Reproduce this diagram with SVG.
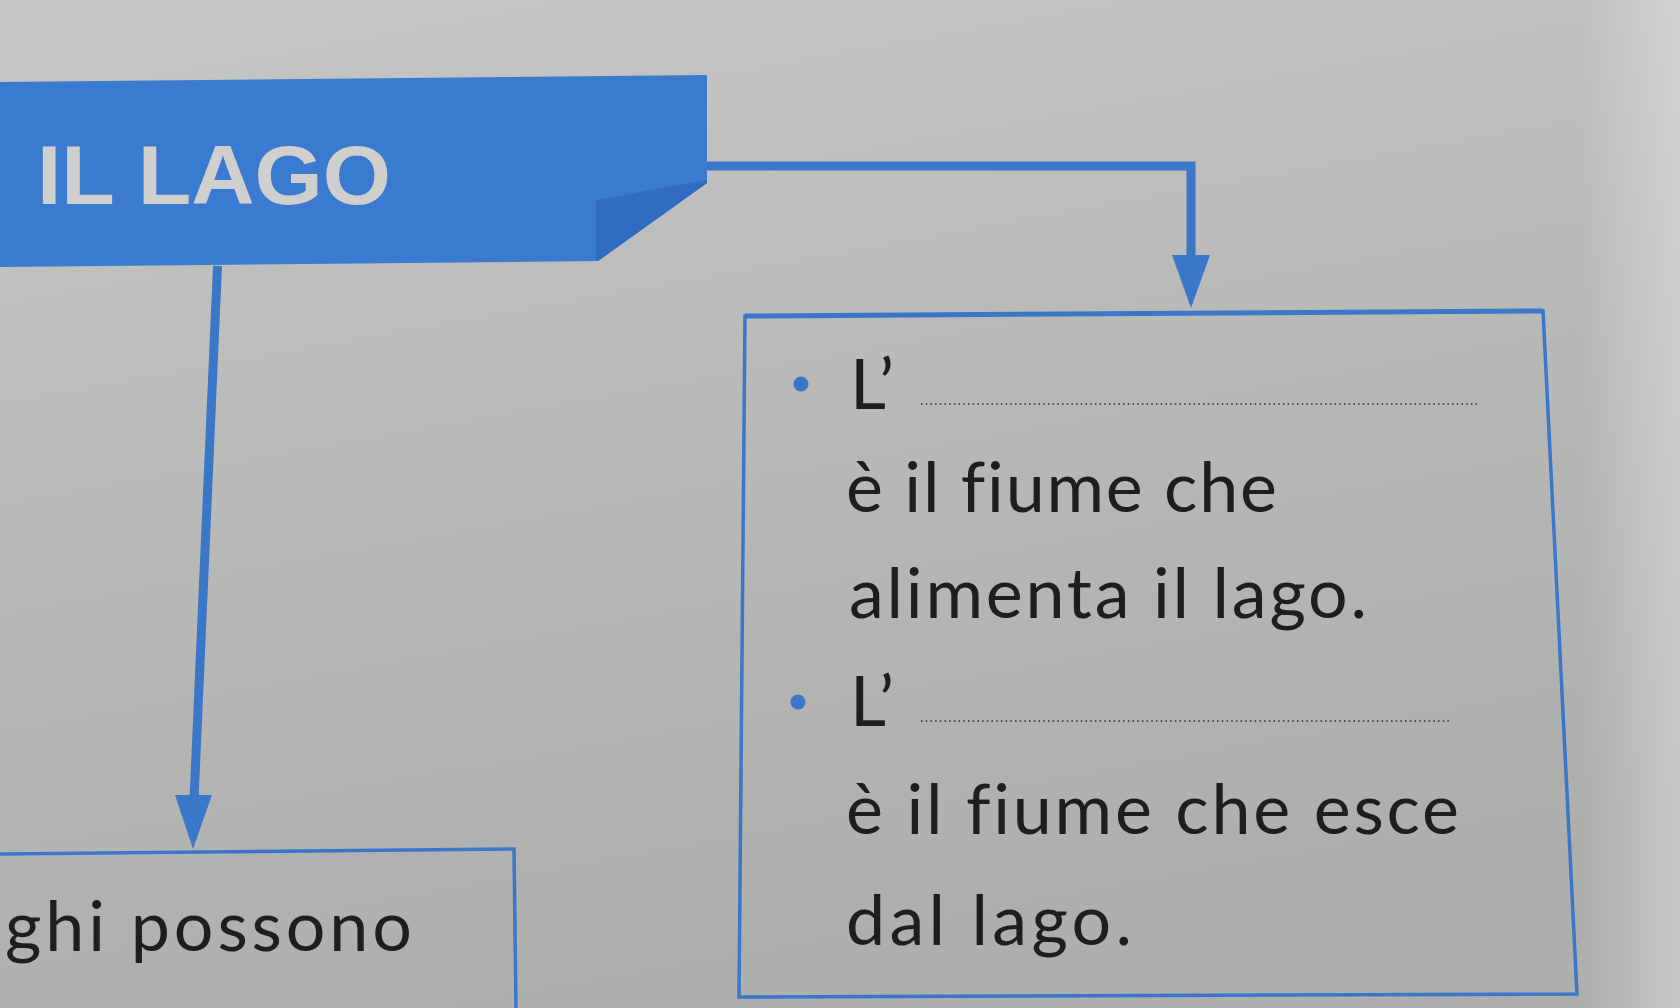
<svg xmlns="http://www.w3.org/2000/svg" width="1680" height="1008" viewBox="0 0 1680 1008">
<defs>
<linearGradient id="bg" x1="0" y1="0" x2="0.3" y2="1">
<stop offset="0" stop-color="#c6c6c4"/>
<stop offset="0.5" stop-color="#b9b9b7"/>
<stop offset="1" stop-color="#aeaeac"/>
</linearGradient>
<linearGradient id="edge" x1="0" y1="0" x2="1" y2="0">
<stop offset="0" stop-color="#ffffff" stop-opacity="0"/>
<stop offset="1" stop-color="#ffffff" stop-opacity="0.3"/>
</linearGradient>
<style>
.conn{fill:none;stroke:#3a77c8;stroke-width:9;stroke-linejoin:miter}
.box{fill:none;stroke:#3a77c8;stroke-width:3.5}
.txt{font-family:"Lato","Open Sans","DejaVu Sans",sans-serif;font-size:70px;font-weight:400;fill:#1e1e1e;font-variant-ligatures:none}
.dots{stroke:#2a2a2a;stroke-width:1.6;stroke-dasharray:1.5 3.2}
.bullet{fill:#3a77c8}
</style>
</defs>
<rect width="1680" height="1008" fill="url(#bg)"/>
<rect x="1580" y="0" width="100" height="1008" fill="url(#edge)"/>

<g id="header">
<polygon points="0,82 707,75 707,183 598,261 0,267" fill="#3a7bd0"/>
<polygon points="596,200 707,180 707,183 598,261 596,261" fill="#2f6cc2"/>
<text x="37" y="204" font-family="Liberation Sans, Arial, sans-serif" font-weight="bold" font-size="84" fill="#cfcfcd" textLength="354" lengthAdjust="spacingAndGlyphs">IL LAGO</text>
</g>

<g id="connectors">
<polyline class="conn" points="707,166 1191,166 1191,262"/>
<polygon points="1172,255 1210,255 1191,308" fill="#3a77c8"/>
<line class="conn" x1="217.5" y1="266" x2="194" y2="800"/>
<polygon points="175,795 212,795 193,849" fill="#3a77c8"/>
</g>

<g id="box-right">
<polygon class="box" points="745,316 1543,311 1577,994 739,997"/>
<line x1="745" y1="316" x2="1543" y2="311" stroke="#3a77c8" stroke-width="5"/>
<circle class="bullet" cx="801" cy="384" r="7.5"/>
<text class="txt" x="850" y="409">L’</text>
<line class="dots" x1="921" y1="404" x2="1479" y2="404"/>
<text class="txt" x="846" y="512" textLength="431" lengthAdjust="spacing">è il fiume che</text>
<text class="txt" x="849" y="618" textLength="518" lengthAdjust="spacing">alimenta il lago.</text>
<circle class="bullet" cx="798" cy="702" r="7.5"/>
<text class="txt" x="850" y="726">L’</text>
<line class="dots" x1="921" y1="721" x2="1452" y2="721"/>
<text class="txt" x="846" y="834" textLength="613" lengthAdjust="spacing">è il fiume che esce</text>
<text class="txt" x="846" y="945" textLength="286" lengthAdjust="spacing">dal lago.</text>
</g>

<g id="box-left">
<polyline class="box" points="0,854 514,849 516,1010"/>
<text class="txt" x="5" y="951" textLength="407" lengthAdjust="spacing">ghi possono</text>
</g>
</svg>
